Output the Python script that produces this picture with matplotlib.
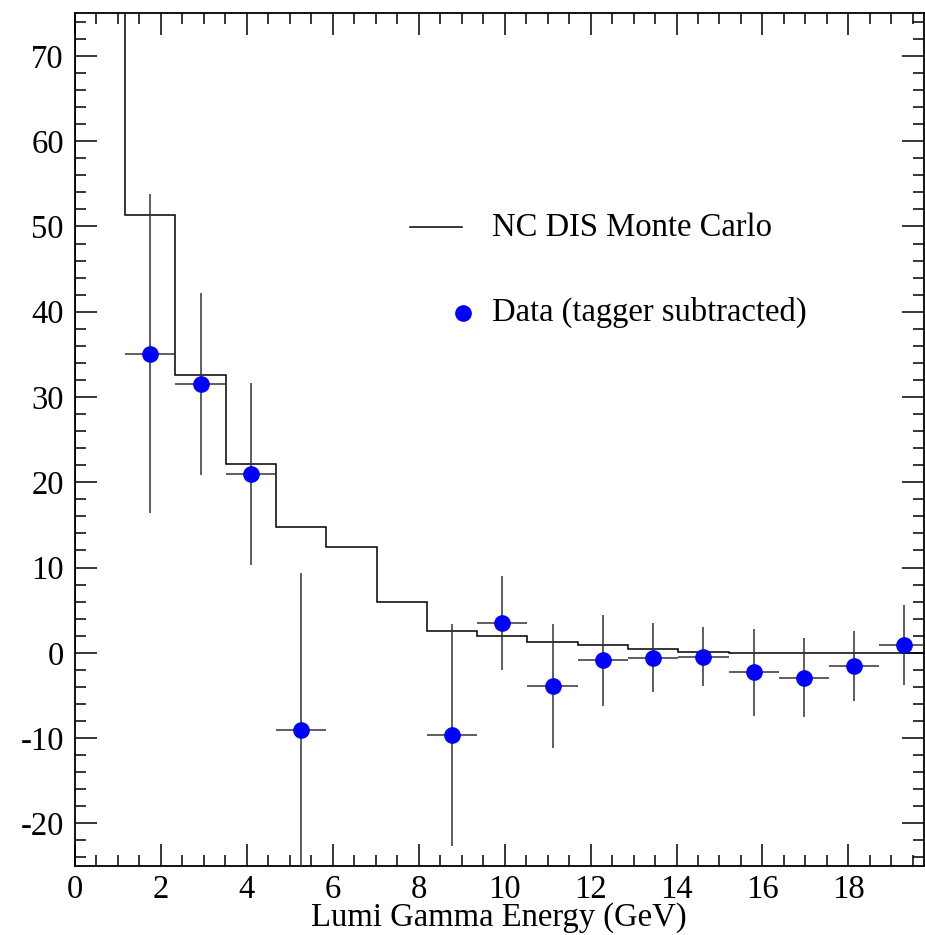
import numpy as np
import matplotlib.pyplot as plt
from matplotlib.ticker import MultipleLocator

plt.rcParams['font.family'] = ['Liberation Serif', 'DejaVu Serif']
plt.rcParams['axes.unicode_minus'] = False

bin_width = 1.17
# MC histogram contents, bin k covers [k*w, (k+1)*w)
mc_counts = [110.0, 51.3, 32.6, 22.2, 14.8, 12.4, 6.0, 2.6, 2.0, 1.3,
             0.9, 0.4, 0.1, 0.0, 0.0, 0.0, 0.0]

# data points (tagger subtracted), bin index into the histogram
data_bins = [1, 2, 3, 4, 7, 8, 9, 10, 11, 12, 13, 14, 15, 16]
data_vals = [35.1, 31.5, 21.0, -9.1, -9.6, 3.5, -3.9, -0.9, -0.6, -0.45,
             -2.3, -2.9, -1.6, 0.9]
data_errs = [18.7, 10.7, 10.7, 18.5, 13.0, 5.5, 7.3, 5.3, 4.05, 3.5,
             5.1, 4.6, 4.1, 4.65]

edges = bin_width * np.arange(len(mc_counts) + 1)
centers = bin_width * (np.array(data_bins) + 0.5)

fig = plt.figure(figsize=(9.25, 9.35), dpi=100)
ax = fig.add_axes([0.081, 0.0738, 0.9175, 0.912])

ax.stairs(mc_counts, edges, color='black', lw=1.1)
ax.errorbar(centers, data_vals, yerr=data_errs, xerr=bin_width / 2,
            fmt='o', color='blue', ms=11, ecolor='#333333', elinewidth=1.1,
            capsize=0, zorder=3)

ax.set_xlim(0, 19.75)
ax.set_ylim(-25, 75)

ax.xaxis.set_major_locator(MultipleLocator(2))
ax.xaxis.set_minor_locator(MultipleLocator(0.5))
ax.yaxis.set_major_locator(MultipleLocator(10))
ax.yaxis.set_minor_locator(MultipleLocator(2))
ax.tick_params(which='both', direction='in', top=True, right=True,
               labelsize=23.5, width=1.1)
ax.tick_params(axis='x', pad=6)
ax.tick_params(axis='y', pad=8)
ax.tick_params(which='major', length=16)
ax.tick_params(which='minor', length=8)
for s in ax.spines.values():
    s.set_linewidth(1.3)

ax.set_xlabel('Lumi Gamma Energy (GeV)', fontsize=23.5, labelpad=0,
              va='baseline')
ax.xaxis.set_label_coords(0.5, -0.0705)

# legend
ax.plot([0.3946, 0.456], [0.749, 0.749], color='black', lw=1.1,
        transform=ax.transAxes)
ax.text(0.492, 0.749, 'NC DIS Monte Carlo', fontsize=23.5, va='center',
        transform=ax.transAxes)
ax.plot([0.457], [0.649], 'o', color='blue', ms=11, transform=ax.transAxes)
ax.text(0.492, 0.649, 'Data (tagger subtracted)', fontsize=23.5,
        va='center', transform=ax.transAxes)

fig.savefig('out.png')
